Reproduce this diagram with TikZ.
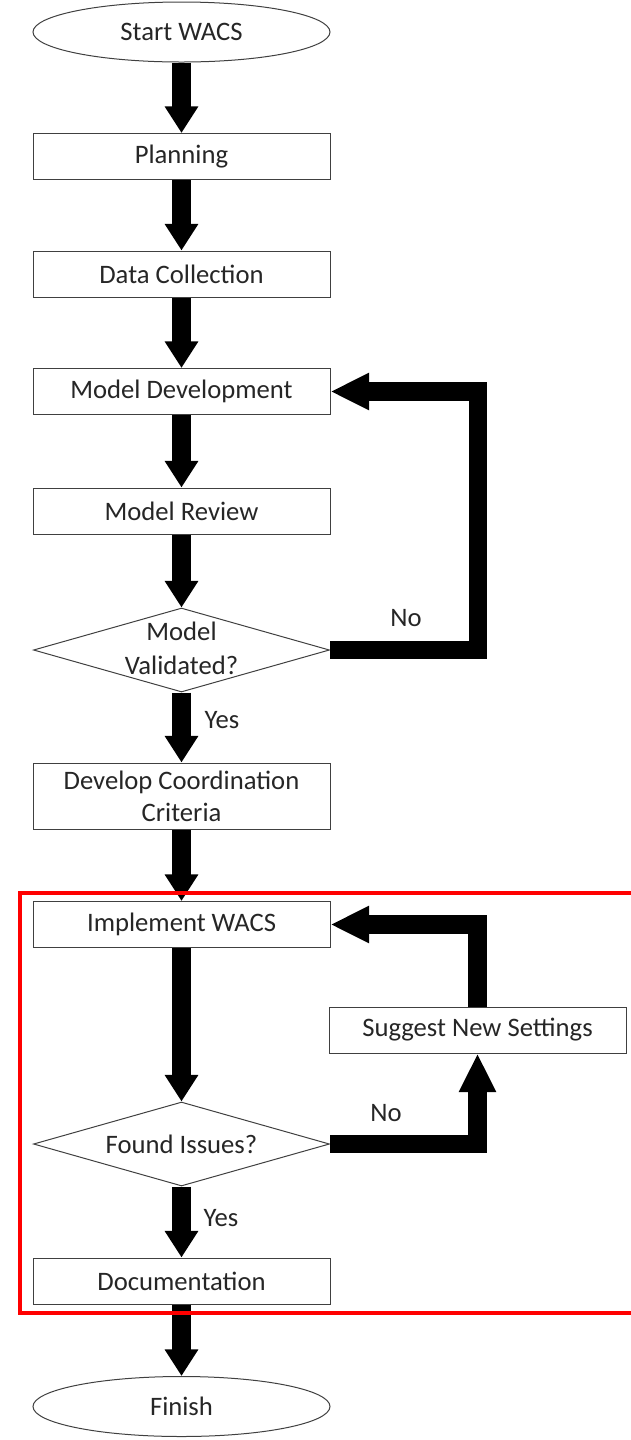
\documentclass[tikz,border=0pt]{standalone}
\usepackage{fontspec}
\setmainfont{Carlito}
\usetikzlibrary{arrows.meta,shapes.geometric}

\tikzset{every picture/.style={line width=0.75pt}}
\tikzset{
  every node/.style={font=\fontsize{20}{24}\selectfont, text=black!85},
  process/.style={draw=black!75, rectangle, minimum width=222.75pt, minimum height=34.5pt, inner sep=0pt, align=center},
  terminal/.style={draw=black!75, ellipse, minimum width=222.75pt, minimum height=45pt, inner sep=0pt},
  decision/.style={draw=black!75, diamond, minimum width=222pt, minimum height=63pt, inner sep=0pt},
  question/.style={align=center, font=\fontsize{20}{25.5}\selectfont, text=black!85},
  flow/.style={line width=14pt, -{Triangle[length=20pt,width=24pt]}},
  backflow/.style={line width=14pt, -{Triangle[length=29pt,width=26pt]}},
  answer/.style={inner sep=0pt}
}

\begin{document}
\begin{tikzpicture}[x=0.75pt,y=0.75pt,yscale=-1,xscale=1]
	\useasboundingbox (0,0) rectangle (631,1440);

	%Flowchart: Terminator
	\node [terminal] (start) at (181.5,32) {Start WACS};
	%Flowchart: Process
	\node [process] (plan) at (181.5,156.5) {Planning};
	%Flowchart: Process
	\node [process] (data) at (181.5,274) {Data Collection};
	%Flowchart: Process
	\node [process] (dev) at (181.5,391.5) {Model Development};
	%Flowchart: Process
	\node [process] (review) at (181.5,511) {Model Review};
	%Flowchart: Decision
	\node [decision, label={[question, yshift=1.5pt]center:Model\\Validated?}] (valid) at (181.5,650) {};
	%Flowchart: Process
	\node [process, minimum height=49.5pt] (crit) at (181.5,796) {Develop Coordination\\Criteria};
	%Flowchart: Process
	\node [process] (impl) at (181.5,924.5) {Implement WACS};
	%Flowchart: Decision
	\node [decision, label={[question]center:Found Issues?}] (found) at (181.5,1144) {};
	%Flowchart: Process
	\node [process] (sugg) at (477.5,1030) {Suggest New Settings};
	%Flowchart: Process
	\node [process] (doc) at (181.5,1281) {Documentation};
	%Flowchart: Terminator
	\node [terminal] (fin) at (181.5,1406.5) {Finish};

	%Straight Lines
	\draw [flow] (start) -- (plan);
	\draw [flow] (plan) -- (data);
	\draw [flow] (data) -- (dev);
	\draw [flow] (dev) -- (review);
	\draw [flow] (review) -- (valid);
	\draw [flow] (valid) -- (crit);
	\draw [flow] (crit) -- (impl);
	\draw [flow] (impl) -- (found);
	\draw [flow] (found) -- (doc);
	\draw [flow] (doc) -- (fin);
	%Elbow Connectors
	\draw [backflow] (valid.east) -- ++(148,0) |- (dev.east);
	\draw [backflow] (found.east) -| (sugg.south);
	\draw [backflow] (sugg.north) |- (impl.east);

	% Text Node
	\node [answer] (no1) at (406,618) {No};
	% Text Node
	\node [answer] (yes1) at (222,720) {Yes};
	% Text Node
	\node [answer] (no2) at (386,1113) {No};
	% Text Node
	\node [answer] (yes2) at (221,1218) {Yes};

	%Shape: Rectangle
	\draw [color=red, line width=3pt] (20,893) rectangle (640,1313);

\end{tikzpicture}
\end{document}
